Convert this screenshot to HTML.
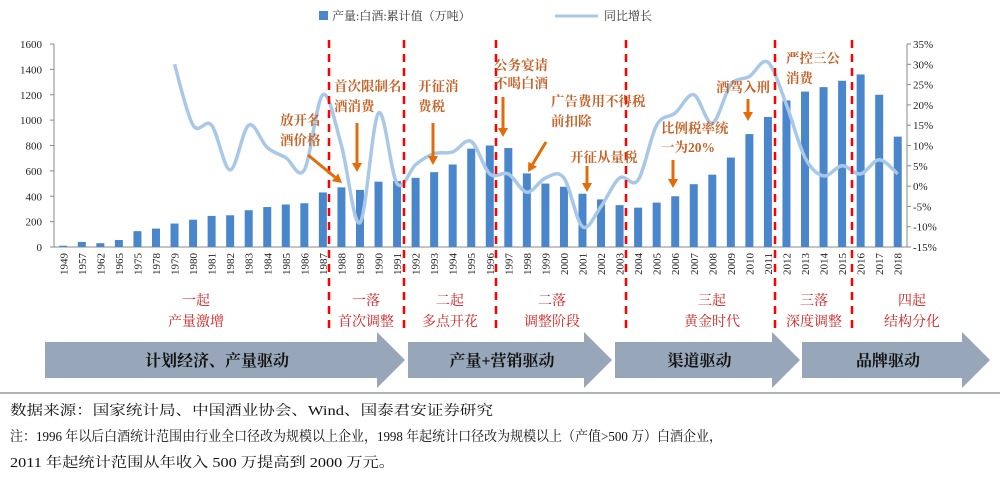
<!DOCTYPE html>
<html><head><meta charset="utf-8">
<style>
body{margin:0;background:#fff;}
svg{display:block;font-family:"Liberation Serif","Noto Serif CJK SC",serif;}
</style></head>
<body>
<svg id="chart" width="1000" height="485" viewBox="0 0 1000 485" xmlns="http://www.w3.org/2000/svg">
<g id="legend">
  <rect x="319" y="11" width="9" height="9" fill="#4a86cc"/>
  <text x="332" y="20" font-size="12" fill="#333">产量:白酒:累计值（万吨）</text>
  <line x1="555" y1="16" x2="598" y2="16" stroke="#a9c8e8" stroke-width="3"/>
  <text x="604" y="20" font-size="12" fill="#333">同比增长</text>
</g>
<g id="axes"></g>
<g id="bars"></g>
<g id="line"></g>
<g id="dividers"></g>
<g id="notes"></g>
<g id="stages"></g>
<g id="arrows"></g>
<line x1="0" y1="393" x2="1000" y2="393" stroke="#999" stroke-width="1.5"/>
<text x="10" y="415" font-size="14" fill="#111" textLength="483" lengthAdjust="spacingAndGlyphs">数据来源：国家统计局、中国酒业协会、Wind、国泰君安证券研究</text>
<text x="10" y="441" font-size="14" fill="#111" textLength="712" lengthAdjust="spacingAndGlyphs">注：1996 年以后白酒统计范围由行业全口径改为规模以上企业，1998 年起统计口径改为规模以上（产值&gt;500 万）白酒企业，</text>
<text x="10" y="467" font-size="14" fill="#111" textLength="385" lengthAdjust="spacingAndGlyphs">2011 年起统计范围从年收入 500 万提高到 2000 万元。</text>
</svg>
<script>
const categories=["1949","1957","1962","1965","1975","1978","1979","1980","1981","1982","1983","1984","1985","1986","1987","1988","1989","1990","1991","1992","1993","1994","1995","1996","1997","1998","1999","2000","2001","2002","2003","2004","2005","2006","2007","2008","2009","2010","2011","2012","2013","2014","2015","2016","2017","2018"];
const production=[10,40,30,55,125,145,185,215,245,250,290,315,335,345,430,470,450,515,520,545,590,650,775,800,780,580,500,475,420,375,330,310,350,400,495,570,705,890,1025,1155,1225,1260,1310,1360,1200,870];
const growth=[null,null,null,null,null,null,30,15,15,4,15,9.5,7,4,22.5,10,-9,18,0.6,5.3,8,8.4,11,3,3,-1.5,2,2,-10,-5,2,1.5,15,18,22.5,15.5,25,27,30.5,20,7,2.5,5,3,6.5,3];
const leftTicks=[0,200,400,600,800,1000,1200,1400,1600];
const rightTicks=[-15,-10,-5,0,5,10,15,20,25,30,35];
const NS="http://www.w3.org/2000/svg";
const X0=54,X1=907,YB=247,YT=44;
const bw=(X1-X0)/categories.length;
const xC=i=>X0+bw*(i+0.5);
const yL=v=>YB-(v/1600)*(YB-YT);
const yR=v=>YB-((v+15)/50)*(YB-YT);
function mk(tag,attrs,parent,txt){const e=document.createElementNS(NS,tag);for(const k in attrs)e.setAttribute(k,attrs[k]);if(txt!==undefined)e.textContent=txt;parent.appendChild(e);return e;}
const axes=document.getElementById('axes');
let e=mk('line',{x1:X0,y1:YT,x2:X0,y2:YB,stroke:'#888'},axes);


e=mk('line',{x1:X1,y1:YT,x2:X1,y2:YB,stroke:'#888'},axes);


e=mk('line',{x1:X0,y1:YB,x2:X1,y2:YB,stroke:'#888'},axes);


leftTicks.forEach(v=>{const t=mk('text',{x:X0-12,y:yL(v)+4,'font-size':11,'text-anchor':'end',fill:'#222'},axes,v);


mk('line',{x1:X0-4,y1:yL(v),x2:X0,y2:yL(v),stroke:'#888'},axes);});
rightTicks.forEach(v=>{const t=mk('text',{x:X1+6,y:yR(v)+4,'font-size':11,fill:'#222'},axes,v+'%');


mk('line',{x1:X1,y1:yR(v),x2:X1+4,y2:yR(v),stroke:'#888'},axes);});
categories.forEach((c,i)=>{const t=mk('text',{x:0,y:0,'font-size':11,'text-anchor':'end',fill:'#222',transform:`translate(${xC(i)+4},${YB+6}) rotate(-90)`},axes,c);

});
const bars=document.getElementById('bars');
production.forEach((v,i)=>{const r=mk('rect',{x:xC(i)-4,y:yL(v),width:8,height:YB-yL(v),fill:'#4a86cc'},bars);

});
const pts=[];growth.forEach((v,i)=>{if(v!==null)pts.push([xC(i),yR(v)]);});
let d='M'+pts[0][0]+','+pts[0][1];
for(let i=0;i<pts.length-1;i++){const p0=pts[i-1]||pts[i],p1=pts[i],p2=pts[i+1],p3=pts[i+2]||p2;
d+=` C${p1[0]+(p2[0]-p0[0])/6},${p1[1]+(p2[1]-p0[1])/6} ${p2[0]-(p3[0]-p1[0])/6},${p2[1]-(p3[1]-p1[1])/6} ${p2[0]},${p2[1]}`;}
const ln=mk('path',{d:d,fill:'none',stroke:'#a9c8e8','stroke-width':3.5,'stroke-linejoin':'round'},document.getElementById('line'));


const divX=[329,404,496,626,775,852];
const dv=document.getElementById('dividers');
divX.forEach(x=>{const l=mk('line',{x1:x,y1:40,x2:x,y2:328,stroke:'#f00','stroke-width':2.5,'stroke-dasharray':'8,6'},dv);

});
const notes=[[280,125,"放开名"],[280,145,"酒价格"],[334,91,"首次限制名"],[334,111,"酒消费"],[418,91,"开征消"],[418,111,"费税"],[494,70,"公务宴请"],[494,88,"不喝白酒"],[551,106,"广告费用不得税"],[551,126,"前扣除"],[570,162,"开征从量税"],[661,133,"比例税率统"],[661,152,"一为20%"],[716,92,"酒驾入刑"],[786,63,"严控三公"],[786,83,"消费"]];
const ng=document.getElementById('notes');
notes.forEach(n=>{const t=mk('text',{x:n[0],y:n[1],'font-size':13.5,'font-weight':'bold',fill:'#c5642a'},ng,n[2]);

});
const arr=[[308,155,342,183],[357,123,357,172],[433,123,433,165],[503,97,503,137],[546,142,528,172],[587,166,587,192],[673,160,673,188],[748,99,748,121]];
arr.forEach(a=>{const ang=Math.atan2(a[3]-a[1],a[2]-a[0]);const L=9;
const bx=a[2]-L*Math.cos(ang),by=a[3]-L*Math.sin(ang);
mk('line',{x1:a[0],y1:a[1],x2:bx,y2:by,stroke:'#e36c09','stroke-width':3},ng);
const px=-Math.sin(ang)*5,py=Math.cos(ang)*5;
const h=mk('polygon',{points:`${a[2]},${a[3]} ${bx+px},${by+py} ${bx-px},${by-py}`,fill:'#e36c09'},ng);

});
const stages=[[196,"一起","产量激增"],[366,"一落","首次调整"],[450,"二起","多点开花"],[552,"二落","调整阶段"],[712,"三起","黄金时代"],[814,"三落","深度调整"],[912,"四起","结构分化"]];
const sg=document.getElementById('stages');
stages.forEach(s=>{let t=mk('text',{x:s[0],y:305,'font-size':14,'text-anchor':'middle',fill:'#d02020'},sg,s[1]);


t=mk('text',{x:s[0],y:326,'font-size':14,'text-anchor':'middle',fill:'#d02020'},sg,s[2]);

});
const drivers=[[45,405,"计划经济、产量驱动"],[408,612,"产量+营销驱动"],[615,800,"渠道驱动"],[802,990,"品牌驱动"]];
const ag=document.getElementById('arrows');
drivers.forEach(s=>{const x0=s[0],x1=s[1],hx=x1-28;
const p=mk('polygon',{points:`${x0},342 ${hx},342 ${hx},332 ${x1},360 ${hx},388 ${hx},378 ${x0},378`,fill:'#97a6b9'},ag);


const t=mk('text',{x:(x0+hx)/2+6,y:366,'font-size':16,'font-weight':'bold','text-anchor':'middle',fill:'#111'},ag,s[2]);

});
</script>
</body></html>
